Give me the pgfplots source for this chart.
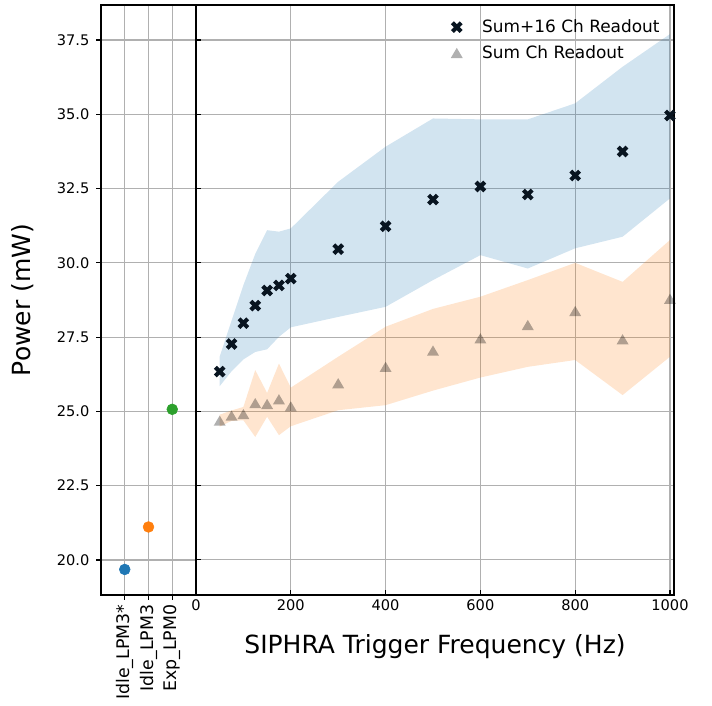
\documentclass[border=0pt]{standalone}
\usepackage{fontspec}
\setmainfont{DejaVu Sans}
\usepackage{pgfplots}
\pgfplotsset{compat=1.18}
\usepackage{pgfplotstable}
\usepgfplotslibrary{fillbetween}

\definecolor{tabblue}{HTML}{1F77B4}
\definecolor{taborange}{HTML}{FF7F0E}
\definecolor{tabgreen}{HTML}{2CA02C}
\definecolor{gridgray}{HTML}{B0B0B0}
\definecolor{xmark}{RGB}{8,20,32}

% matplotlib-like filled "X" and "^" markers
\pgfdeclareplotmark{Xfill}{%
  \pgfpathmoveto{\pgfqpoint{-0.5\pgfplotmarksize}{-\pgfplotmarksize}}%
  \pgfpathlineto{\pgfqpoint{0pt}{-0.5\pgfplotmarksize}}%
  \pgfpathlineto{\pgfqpoint{0.5\pgfplotmarksize}{-\pgfplotmarksize}}%
  \pgfpathlineto{\pgfqpoint{\pgfplotmarksize}{-0.5\pgfplotmarksize}}%
  \pgfpathlineto{\pgfqpoint{0.5\pgfplotmarksize}{0pt}}%
  \pgfpathlineto{\pgfqpoint{\pgfplotmarksize}{0.5\pgfplotmarksize}}%
  \pgfpathlineto{\pgfqpoint{0.5\pgfplotmarksize}{\pgfplotmarksize}}%
  \pgfpathlineto{\pgfqpoint{0pt}{0.5\pgfplotmarksize}}%
  \pgfpathlineto{\pgfqpoint{-0.5\pgfplotmarksize}{\pgfplotmarksize}}%
  \pgfpathlineto{\pgfqpoint{-\pgfplotmarksize}{0.5\pgfplotmarksize}}%
  \pgfpathlineto{\pgfqpoint{-0.5\pgfplotmarksize}{0pt}}%
  \pgfpathlineto{\pgfqpoint{-\pgfplotmarksize}{-0.5\pgfplotmarksize}}%
  \pgfpathclose\pgfusepathqfill}
\pgfdeclareplotmark{tri}{%
  \pgfpathmoveto{\pgfqpoint{0pt}{0.85\pgfplotmarksize}}%
  \pgfpathlineto{\pgfqpoint{-\pgfplotmarksize}{-0.85\pgfplotmarksize}}%
  \pgfpathlineto{\pgfqpoint{\pgfplotmarksize}{-0.85\pgfplotmarksize}}%
  \pgfpathclose\pgfusepathqfill}

% Sum+16 Ch readout: mean and band
\pgfplotstableread{
f    mean   lo     hi
50   26.34  25.85  26.85
75   27.27  26.35  28.05
100  27.97  26.75  29.25
125  28.56  27.00  30.30
150  29.07  27.09  31.10
175  29.24  27.51  31.05
200  29.47  27.83  31.16
300  30.46  28.18  32.73
400  31.23  28.52  33.91
500  32.13  29.42  34.86
600  32.57  30.26  34.83
700  32.30  29.81  34.83
800  32.94  30.49  35.37
900  33.75  30.88  36.60
1000 34.96  32.17  37.70
}\sixteen

% Sum Ch readout
\pgfplotstableread{
f    mean   lo     hi
50   24.69  24.49  24.89
75   24.86  24.68  25.03
100  24.91  24.70  25.15
125  25.28  24.14  26.39
150  25.25  24.82  25.62
175  25.41  24.20  26.61
200  25.17  24.50  25.80
300  25.95  25.04  26.84
400  26.50  25.21  27.85
500  27.05  25.70  28.45
600  27.46  26.14  28.86
700  27.91  26.50  29.42
800  28.38  26.73  30.00
900  27.43  25.55  29.36
1000 28.79  26.84  30.77
}\sumch

\pgfplotsset{
  base/.style={
    scale only axis, height=424.8pt,
    ymin=18.82, ymax=38.68,
    ytick={20,22.5,...,37.5},
    grid=major,
    grid style={gridgray, line width=0.8pt},
    axis line style={line width=0.8pt},
    tick style={black, line width=0.8pt},
    major tick length=3.5pt,
    tick label style={font=\fontsize{10.5}{12}\selectfont},
    /pgf/number format/assume math mode=true,
    /pgf/number format/1000 sep={},
    xtick pos=bottom, ytick pos=left,
  },
}

\begin{document}
\begin{tikzpicture}
% idle / exposure modes
\begin{axis}[base,
  at={(72.72pt,79.2pt)}, width=68.4pt,
  xmin=-1, xmax=3,
  xtick={0,1,2},
  xticklabels={Idle\_LPM3*, Idle\_LPM3, Exp\_LPM0},
  x tick label style={rotate=90, anchor=east, font=\fontsize{12.5}{14}\selectfont},
  tick align=outside,
  yticklabel style={xshift=-1.4pt, /pgf/number format/.cd, fixed, fixed zerofill, precision=1},
]
\addplot[only marks, mark=*, mark size=3.9pt, tabblue] coordinates {(0,19.68)};
\addplot[only marks, mark=*, mark size=3.9pt, taborange] coordinates {(1,21.11)};
\addplot[only marks, mark=*, mark size=3.9pt, tabgreen] coordinates {(2,25.07)};
\end{axis}

% trigger frequency sweep
\begin{axis}[base,
  at={(141.12pt,79.2pt)}, width=344.16pt,
  xmin=0, xmax=1008.5,
  xtick={0,200,...,1000},
  yticklabels={},
  tick align=inside,
  legend style={draw=none, fill=none, at={(0.985,0.985)}, anchor=north east,
    font=\fontsize{12.2}{14}\selectfont, row sep=3.8pt, column sep=12pt},
  legend cell align=left,
]
\addplot[draw=none, name path=bu, forget plot] table[x=f, y=hi] {\sixteen};
\addplot[draw=none, name path=bl, forget plot] table[x=f, y=lo] {\sixteen};
\addplot[fill=tabblue, fill opacity=0.2, draw=none, forget plot] fill between[of=bu and bl];
\addplot[draw=none, name path=ou, forget plot] table[x=f, y=hi] {\sumch};
\addplot[draw=none, name path=ol, forget plot] table[x=f, y=lo] {\sumch};
\addplot[fill=taborange, fill opacity=0.2, draw=none, forget plot] fill between[of=ou and ol];

\addplot[only marks, mark=Xfill, mark size=4.2pt, xmark] table[x=f, y=mean] {\sixteen};
\addplot[only marks, mark=tri, mark size=4.3pt, black, opacity=0.31] table[x=f, y=mean] {\sumch};
\legend{Sum+16 Ch Readout, Sum Ch Readout}
\end{axis}

\node[anchor=base, font=\fontsize{18}{21}\selectfont] at (313.2pt,37.4pt) {SIPHRA Trigger Frequency (Hz)};
\node[rotate=90, anchor=base, font=\fontsize{18}{21}\selectfont] at (21.6pt,291.6pt) {Power (mW)};
\path (0,0) rectangle (512.64pt,507.6pt);
\end{tikzpicture}
\end{document}
